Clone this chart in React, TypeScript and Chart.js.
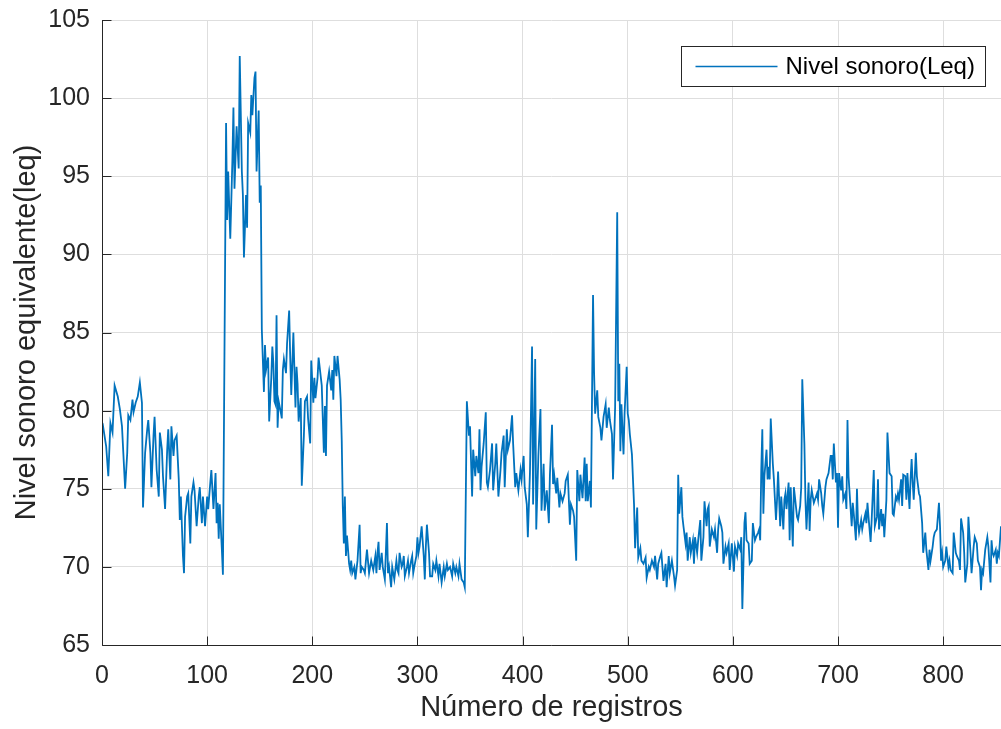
import React, { useEffect, useRef } from "react";
import { Chart, registerables } from "chart.js";

Chart.register(...registerables);

// [número de registro, nivel sonoro]
const tramoInicio: [number, number][] = [
  [0, 78.8], [1, 79.0], [4, 77.7], [6, 75.8], [8, 79.2], [10, 78.6], [12, 81.6], [15, 80.9], [17, 80.1], [19, 79.0],
  [22, 75.0], [24, 77.3], [25, 79.7], [27, 79.4], [29, 80.7], [30, 79.9], [32, 80.5], [34, 80.9], [36, 81.8], [38, 80.5],
  [39, 73.8], [41, 77.3], [43, 78.8], [44, 79.4], [46, 77.3], [47, 75.1], [49, 78.4], [50, 79.6], [52, 76.2], [54, 74.5],
  [55, 78.6], [57, 77.5], [58, 75.8], [60, 73.7], [62, 77.5], [63, 78.8], [65, 75.6], [66, 79.0], [68, 77.1], [69, 78.1],
  [71, 78.4], [73, 75.6], [74, 73.0], [75, 74.5], [77, 70.7], [78, 69.6], [79, 73.2], [81, 74.5], [82, 74.7], [84, 71.5],
  [85, 74.5], [87, 75.4], [88, 74.9], [90, 72.6], [92, 74.5], [93, 75.1], [95, 72.8], [96, 74.5], [98, 72.6], [100, 74.5],
  [101, 73.7], [103, 75.4], [104, 76.2], [106, 73.7], [108, 76.0], [109, 72.8], [110, 74.1], [111, 71.8], [112, 74.0], [114, 71.1],
  [115, 69.5],
];

const tramoPico: [number, number][] = [
  [118, 98.4], [119, 92.2], [120, 95.3], [121, 93.1], [122, 91.0], [124, 96.0], [125, 99.4], [126, 94.2], [128, 98.2], [130, 95.5],
  [131, 102.7], [133, 95.3], [134, 93.8], [135, 89.8], [137, 93.8], [138, 91.7], [139, 98.4], [141, 97.8], [142, 100.2], [143, 98.9],
  [145, 101.3], [146, 101.7], [147, 95.3], [149, 99.2], [150, 93.3], [151, 94.4], [152, 85.2], [154, 81.2], [155, 84.2], [156, 82.6],
  [158, 83.4], [159, 79.3], [161, 82.1], [162, 84.1], [163, 83.0], [164, 80.6], [165, 80.4], [166, 86.1], [167, 78.9], [168, 80.6],
  [170, 79.9], [171, 79.5], [172, 82.6], [173, 83.3], [175, 82.4], [176, 84.3], [178, 86.4], [179, 83.4], [180, 81.0], [182, 85.0],
  [184, 80.2], [185, 82.8], [186, 81.7], [187, 79.3], [189, 80.8], [190, 75.2], [192, 78.4], [193, 80.6], [195, 80.9], [196, 79.5],
  [198, 77.9], [199, 83.2], [201, 80.5], [202, 82.1], [203, 80.8], [205, 82.1], [206, 83.4], [209, 81.6], [211, 77.3], [212, 80.3],
  [213, 77.1], [214, 81.6], [216, 82.5], [218, 81.3], [219, 82.6], [220, 80.7], [221, 83.5], [223, 82.2], [224, 83.5], [226, 82.0],
  [227, 80.7], [228, 78.1],
];

const tramoBajo1: [number, number][] = [
  [229, 73.9], [230, 71.5], [231, 74.5], [232, 70.7], [233, 72.0], [235, 70.2], [236, 69.8], [237, 70.4], [238, 69.6], [240, 70.0],
  [241, 69.2], [242, 69.8], [243, 70.4], [245, 72.7], [246, 69.6], [247, 70.0], [249, 69.8], [250, 69.6], [251, 70.4], [252, 71.1],
  [254, 69.6], [255, 70.0], [256, 70.4], [258, 69.8], [260, 70.7], [261, 69.6], [262, 70.9], [263, 71.6], [264, 69.8], [266, 70.9],
  [267, 70.0], [268, 69.6], [269, 69.2], [271, 72.8], [272, 69.6], [273, 70.0], [275, 68.7], [276, 70.0], [277, 69.6], [278, 69.2],
  [280, 70.4], [281, 69.8], [282, 69.6], [283, 70.9], [285, 70.0], [286, 70.2], [287, 70.7], [288, 69.4], [290, 70.0], [291, 70.4],
  [292, 69.6], [294, 70.4], [295, 70.7], [296, 69.6], [297, 70.0], [299, 70.7], [300, 71.9], [301, 70.9], [302, 71.3], [304, 72.6],
  [306, 70.7], [307, 69.2], [308, 71.3], [309, 72.7], [311, 70.9], [312, 69.4], [314, 69.4], [315, 70.2], [317, 69.8], [318, 70.4],
  [320, 69.4], [321, 70.2], [323, 69.0], [325, 70.0], [326, 69.4], [328, 70.2], [329, 69.8], [331, 70.0], [333, 69.4], [334, 70.2],
  [336, 69.6], [337, 70.0], [339, 69.4], [340, 70.2], [342, 69.2], [344, 69.0], [345, 68.7],
];

const tramoMedio1: [number, number][] = [
  [347, 80.6], [349, 78.4], [350, 79.0], [352, 74.5], [353, 77.5], [355, 75.8], [356, 77.1], [358, 76.0], [359, 78.8], [360, 74.9],
  [361, 76.4], [363, 77.9], [365, 79.9], [366, 75.4], [367, 75.1], [369, 76.2], [371, 77.9], [372, 74.9], [374, 76.6], [375, 77.9],
  [377, 74.5], [379, 76.2], [380, 77.3], [382, 78.4], [383, 75.1], [385, 78.8], [386, 77.5], [388, 78.1], [390, 79.7], [391, 77.9],
  [393, 75.1], [394, 76.0], [396, 74.9], [398, 76.2], [399, 75.6], [401, 77.1], [402, 75.1], [404, 74.0], [405, 71.9], [407, 76.0],
  [409, 84.1], [410, 74.0], [412, 83.3], [413, 72.4], [415, 77.1], [417, 80.1], [418, 73.6], [420, 76.6], [421, 73.6], [423, 74.9],
  [425, 72.8], [426, 75.9], [428, 79.1], [429, 75.3], [430, 75.9], [432, 74.7], [433, 75.7], [435, 73.8], [436, 74.7], [438, 74.2],
  [440, 74.7], [441, 75.5], [443, 75.9], [445, 72.7], [446, 74.0], [448, 73.6], [449, 73.2], [451, 70.4], [452, 76.2], [454, 74.2],
  [455, 75.9], [457, 74.4], [459, 77.0], [460, 74.2], [461, 76.6], [462, 74.2], [464, 75.5], [465, 73.8],
];

const tramoMedio2: [number, number][] = [
  [467, 87.4], [468, 82.4], [469, 79.8], [471, 81.3], [472, 79.6], [474, 78.9], [475, 78.1], [477, 79.6], [479, 80.4], [480, 78.9],
  [482, 80.2], [483, 79.4], [485, 78.5], [486, 75.6], [488, 80.2], [490, 92.7], [491, 80.6], [492, 83.0], [493, 77.4], [494, 80.4],
  [496, 77.2], [497, 79.8], [499, 82.8], [500, 79.8], [501, 79.4], [502, 78.5], [504, 77.2], [506, 74.0], [507, 71.2], [509, 73.8],
  [510, 70.6], [512, 71.2], [513, 70.4], [515, 70.2], [517, 70.6], [518, 69.3], [520, 70.0], [521, 69.8], [523, 70.4], [525, 70.0],
  [526, 70.7], [528, 69.2], [529, 70.2], [531, 70.7], [532, 70.9], [534, 69.1], [536, 70.2], [537, 68.7], [539, 70.7], [540, 69.6],
  [542, 70.4], [544, 69.4], [545, 68.8], [547, 69.8],
];

const tramoBajo2: [number, number][] = [
  [548, 75.9], [549, 73.4], [551, 75.1], [552, 73.2], [553, 72.6], [555, 71.5], [556, 72.2], [557, 70.4], [559, 71.9], [560, 70.9],
  [562, 71.7], [563, 70.2], [564, 71.9], [566, 70.9], [567, 71.7], [569, 73.0], [570, 70.4], [572, 71.9], [573, 74.2], [575, 72.6],
  [576, 73.7], [577, 73.9], [578, 71.3], [580, 72.4], [582, 71.9], [583, 72.4], [585, 70.9], [586, 72.4], [587, 73.1], [589, 72.6],
  [590, 72.2], [591, 70.2], [593, 71.3], [594, 70.9], [596, 71.5], [597, 69.8], [599, 71.5], [601, 69.7], [602, 71.3], [604, 70.7],
  [605, 71.5], [607, 71.1], [608, 71.9], [609, 67.3], [611, 72.8], [612, 73.5], [613, 71.7], [615, 71.5], [616, 70.2], [618, 70.4],
  [619, 72.8], [621, 71.7], [622, 71.9], [624, 72.2], [625, 72.4], [626, 71.7],
];

const tramoMedio3: [number, number][] = [
  [627, 76.2], [628, 78.8], [629, 73.4], [630, 75.8], [632, 77.5], [633, 75.6], [634, 76.4], [635, 75.6], [636, 79.5], [638, 76.6],
  [639, 75.6], [640, 74.3], [641, 73.0], [642, 74.3], [643, 76.1], [645, 72.6], [646, 74.5], [648, 72.4], [649, 74.3], [650, 74.7],
  [651, 73.7], [653, 75.4], [654, 71.7], [655, 75.1], [657, 71.3], [658, 75.1], [659, 74.5], [661, 73.2], [662, 73.0], [664, 73.9],
  [665, 75.1], [666, 82.0], [668, 77.9], [669, 74.3], [670, 72.4], [672, 75.4], [673, 72.3], [674, 74.3], [675, 74.9], [677, 74.1],
  [678, 74.3], [680, 74.7], [681, 74.3], [682, 75.6], [684, 74.7], [685, 73.9], [686, 73.4], [688, 75.1], [689, 75.6], [691, 76.0],
  [693, 77.1], [694, 77.1], [695, 75.6], [696, 77.9], [698, 75.4], [699, 76.0], [700, 72.5], [701, 76.0], [703, 74.9], [704, 75.8],
  [705, 74.3], [707, 74.7], [708, 73.7], [709, 79.4], [710, 75.8], [712, 73.7], [713, 72.6], [714, 74.1], [715, 73.4], [717, 71.7],
  [718, 75.0], [719, 72.8], [720, 72.2], [722, 73.0], [723, 72.4], [724, 72.8], [726, 73.4], [727, 72.8], [728, 74.1], [729, 73.2],
  [731, 71.6], [732, 73.0], [734, 76.2], [735, 72.6], [737, 73.2], [738, 75.6], [739, 72.4], [741, 73.7], [742, 72.6], [743, 73.4],
  [744, 71.9], [746, 74.3], [747, 78.6], [749, 76.0], [751, 75.8], [752, 73.4], [753, 73.3], [755, 74.5], [756, 74.3], [757, 74.7],
  [758, 74.3], [760, 75.6], [761, 73.9], [762, 75.9], [764, 75.8], [765, 74.3], [766, 76.0], [768, 73.7], [769, 75.6], [770, 76.9],
  [771, 75.4], [772, 74.3], [774, 77.3], [775, 75.8], [777, 74.7], [778, 74.5],
];

const tramoFinal: [number, number][] = [
  [780, 72.8], [781, 70.9], [783, 72.2], [784, 71.1], [786, 69.8], [787, 71.1], [788, 70.4], [790, 71.3], [791, 71.9], [792, 72.2],
  [794, 72.4], [796, 74.1], [797, 72.6], [798, 70.4], [799, 70.9], [800, 70.0], [802, 70.4], [803, 71.3], [805, 70.0], [806, 70.4],
  [807, 69.8], [809, 69.6], [810, 72.2], [812, 70.9], [813, 70.7], [815, 70.4], [816, 69.8], [817, 73.1], [819, 72.2], [820, 70.9],
  [821, 69.0], [823, 70.2], [824, 73.2], [826, 70.9], [827, 69.6], [829, 71.3], [830, 71.9], [832, 71.5], [833, 70.4], [835, 70.0],
  [836, 68.5], [837, 69.8], [838, 69.6], [840, 71.1], [842, 71.9], [843, 71.3], [845, 69.0], [846, 71.7], [847, 70.9], [848, 70.7],
  [850, 71.1], [851, 70.2], [852, 70.9], [853, 70.7], [855, 72.6],
];

const xTicks = [0, 100, 200, 300, 400, 500, 600, 700, 800];
const yTicks = [65, 70, 75, 80, 85, 90, 95, 100, 105];
const xMin = 0;
const xMax = 855;
const serieNombre = "Nivel sonoro(Leq)";
const xTitulo = "Número de registros";
const yTitulo = "Nivel sonoro equivalente(leq)";

const AXIS = "#262626";
const GRID = "#dedede";
const LINE = "#0072bd";
const FONT = "'Liberation Sans', Arial, Helvetica, sans-serif";

const puntos = [
  ...tramoInicio, ...tramoPico, ...tramoBajo1, ...tramoMedio1,
  ...tramoMedio2, ...tramoBajo2, ...tramoMedio3, ...tramoFinal,
].map(([x, y]) => ({ x, y }));

const matlabAxes = {
  id: "matlabAxes",
  afterDatasetsDraw(chart: any) {
    const { ctx, chartArea: a, scales } = chart;
    const xs = scales.x;
    const ys = scales.y;
    ctx.save();
    ctx.strokeStyle = AXIS;
    ctx.lineWidth = 1;
    ctx.beginPath();
    const lx = Math.round(a.left) + 0.5;
    const by = Math.round(a.bottom) + 0.5;
    ctx.moveTo(lx, a.top);
    ctx.lineTo(lx, by);
    ctx.lineTo(a.right, by);
    for (const v of yTicks) {
      const py = Math.round(ys.getPixelForValue(v)) + 0.5;
      ctx.moveTo(lx, py);
      ctx.lineTo(lx + 9, py);
    }
    for (const v of xTicks) {
      const px = Math.round(xs.getPixelForValue(v)) + 0.5;
      ctx.moveTo(px, by);
      ctx.lineTo(px, by - 9);
    }
    ctx.stroke();

    // legend box
    const fontSize = 24;
    ctx.font = `${fontSize}px ${FONT}`;
    const tw = ctx.measureText(serieNombre).width;
    const w = Math.round(104 + tw + 11);
    const h = 40;
    const bx = Math.round(a.right - 16 - w) + 0.5;
    const byy = Math.round(a.top + 26) + 0.5;
    ctx.fillStyle = "#ffffff";
    ctx.fillRect(bx, byy, w, h);
    ctx.strokeStyle = AXIS;
    ctx.lineWidth = 1;
    ctx.strokeRect(bx, byy, w, h);
    const my = byy + h / 2;
    ctx.beginPath();
    ctx.strokeStyle = LINE;
    ctx.lineWidth = 1.7;
    ctx.moveTo(bx + 14, my);
    ctx.lineTo(bx + 96, my);
    ctx.stroke();
    ctx.fillStyle = "#000000";
    ctx.textAlign = "left";
    ctx.textBaseline = "middle";
    ctx.fillText(serieNombre, bx + 104, my + 1);
    ctx.restore();
  },
};

export default function App() {
  const ref = useRef<HTMLCanvasElement | null>(null);

  useEffect(() => {
    const canvas = ref.current;
    if (!canvas) return;
    const chart = new Chart(canvas, {
      type: "line",
      data: {
        datasets: [
          {
            label: serieNombre,
            data: puntos,
            borderColor: LINE,
            backgroundColor: LINE,
            borderWidth: 1.8,
            pointRadius: 0,
            fill: false,
            tension: 0,
          },
        ],
      },
      options: {
        responsive: false,
        animation: false,
        layout: { padding: { top: 20, right: 0, left: 0, bottom: 0 } },
        plugins: {
          legend: { display: false },
          tooltip: { enabled: false },
        },
        scales: {
          x: {
            type: "linear",
            min: xMin,
            max: xMax,
            afterFit: (s: any) => {
              s.height = 84;
              s.paddingLeft = 0;
              s.paddingRight = 0;
            },
            afterBuildTicks: (s: any) => {
              s.ticks = xTicks.map((v) => ({ value: v }));
            },
            grid: { color: GRID, lineWidth: 1, drawTicks: false },
            border: { display: false },
            ticks: {
              color: AXIS,
              font: { family: FONT, size: 25 },
              padding: 16,
              maxRotation: 0,
              autoSkip: false,
            },
            title: {
              display: true,
              text: xTitulo,
              color: AXIS,
              font: { family: FONT, size: 29 },
              padding: { top: 0, bottom: 4 },
            },
          },
          y: {
            type: "linear",
            min: 65,
            max: 105,
            afterFit: (s: any) => {
              s.width = 102;
              s.paddingTop = 0;
              s.paddingBottom = 0;
            },
            afterBuildTicks: (s: any) => {
              s.ticks = yTicks.map((v) => ({ value: v }));
            },
            grid: { color: GRID, lineWidth: 1, drawTicks: false },
            border: { display: false },
            ticks: {
              color: AXIS,
              font: { family: FONT, size: 25 },
              padding: 12,
              autoSkip: false,
            },
            title: {
              display: true,
              text: yTitulo,
              color: AXIS,
              font: { family: FONT, size: 29 },
              padding: { top: 10, bottom: 0 },
            },
          },
        },
      },
      plugins: [matlabAxes],
    });
    return () => chart.destroy();
  }, []);

  return (
    <div style={{ position: "absolute", left: 0, top: 0, width: 1001, height: 729, background: "#ffffff" }}>
      <canvas ref={ref} width={1001} height={729} style={{ display: "block", width: 1001, height: 729 }} />
    </div>
  );
}
